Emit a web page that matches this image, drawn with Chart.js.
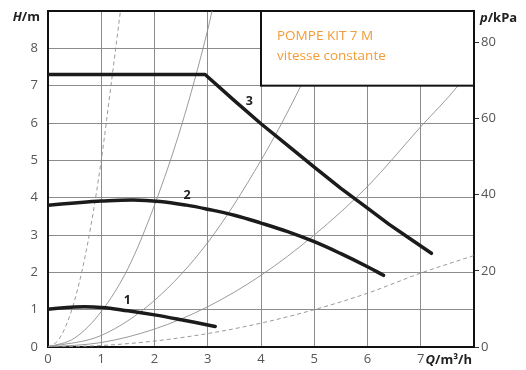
<!DOCTYPE html>
<html>
<head>
<meta charset="utf-8">
<script src="https://cdn.jsdelivr.net/npm/chart.js@4"></script>
<style>
  body { margin: 0; background: #fff; }
</style>
</head>
<body>
<canvas id="chart" width="526" height="370"></canvas>
<script>
// pump curves, Q (m3/h) against H (m)
const pump1 = [[0, 1.01], [0.5, 1.07], [1, 1.06], [1.5, 0.97], [2, 0.86], [2.5, 0.73], [3, 0.59], [3.14, 0.55]];
const pump2 = [[0, 3.8], [0.5, 3.86], [1, 3.91], [1.6, 3.94], [2.1, 3.9], [2.6, 3.8], [3, 3.69], [3.5, 3.53], [4, 3.32], [4.5, 3.09], [5, 2.82], [5.5, 2.5], [6, 2.15], [6.3, 1.92]];
const pump3 = [[0, 7.3], [2.95, 7.3], [3.5, 6.6], [4, 5.98], [4.5, 5.4], [5, 4.82], [5.5, 4.25], [6, 3.72], [6.4, 3.29], [6.8, 2.9], [7.2, 2.51]];

// thin system curves
const sysA = [[0, 0], [0.2, 0.2], [0.4, 0.8], [0.6, 1.8], [0.8, 3.2], [1, 5], [1.2, 7.2], [1.36, 9]];
const sysB = [[0, 0], [0.5, 0.24], [1, 0.95], [1.5, 2.1], [2, 3.8], [2.5, 5.9], [3, 8.5], [3.08, 9]];
const sysC = [[0, 0], [1, 0.31], [2, 1.25], [3, 2.8], [4, 5], [4.75, 7], [5.2, 8.4]];
const sysD = [[0, 0], [1, 0.12], [2, 0.48], [3, 1.08], [4, 1.92], [5, 3], [6, 4.3], [7, 5.9], [7.7, 7], [8, 7.6]];
const sysE = [[0, 0], [1, 0.04], [2, 0.16], [3, 0.36], [4, 0.64], [5, 1], [6, 1.44], [7, 1.98], [8, 2.45]];

// axes
const qMax = 8;
const hMax = 9;
const kpaMax = 88.29;               // 9 m of water
const kpaTicks = [0, 20, 40, 60, 80];

// curve numbers and the title box
const curveLabels = [['1', 1.49, 1.24], ['2', 2.61, 4.06], ['3', 3.78, 6.59]];
const boxQ = [4, 8];
const boxH = [7, 9];
const titleLines = ['POMPE KIT 7 M', 'vitesse constante'];

const toXY = arr => arr.map(p => ({ x: p[0], y: p[1] }));

const pumpLine = (pts, tension) => ({
  data: toXY(pts),
  borderColor: '#1b1b1b',
  borderWidth: 3.5,
  pointRadius: 0,
  tension: tension,
  borderCapStyle: 'round',
  borderJoinStyle: 'round',
  order: 0,
});

const sysLine = (pts, dashed) => ({
  data: toXY(pts),
  borderColor: '#8e8e8e',
  borderWidth: 0.9,
  borderDash: dashed ? [4, 3] : [],
  pointRadius: 0,
  cubicInterpolationMode: 'monotone',
  order: 1,
});

const tickFont = { family: 'Open Sans', size: 13 };
const edgeColor = (v, last) => (v === 0 || v === last) ? '#111' : '#8c8c8c';

// drop the label overhang so the plot edges land where the picture has them
const noPadV = s => { s.paddingTop = 0; s.paddingBottom = 0; };

const overlay = {
  id: 'overlay',
  afterDatasetsDraw(chart) {
    const { ctx, chartArea, scales: { x, y } } = chart;
    ctx.save();

    // title box
    const l = x.getPixelForValue(boxQ[0]), r = x.getPixelForValue(boxQ[1]);
    const t = y.getPixelForValue(boxH[1]), b = y.getPixelForValue(boxH[0]);
    ctx.fillStyle = '#fff';
    ctx.fillRect(l, t, r - l, b - t);
    ctx.strokeStyle = '#111';
    ctx.lineWidth = 2;
    ctx.strokeRect(l, t, r - l, b - t);

    ctx.fillStyle = '#f39b36';
    ctx.font = '13.5px "Open Sans"';
    ctx.textAlign = 'left';
    ctx.textBaseline = 'alphabetic';
    ctx.fillText(titleLines[0], l + 16, t + 29);
    ctx.fillText(titleLines[1], l + 16, t + 49);

    // curve numbers
    ctx.fillStyle = '#222';
    ctx.font = 'bold 12.5px "Open Sans"';
    ctx.textAlign = 'center';
    ctx.textBaseline = 'middle';
    curveLabels.forEach(([txt, q, h]) => {
      ctx.fillText(txt, x.getPixelForValue(q), y.getPixelForValue(h));
    });

    // axis titles: italic symbol then unit
    const axisTitle = (sym, unit, px, py, align) => {
      ctx.textBaseline = 'alphabetic';
      ctx.textAlign = 'left';
      ctx.font = 'italic bold 13px "Open Sans"';
      const w1 = ctx.measureText(sym).width;
      ctx.font = 'bold 13px "Open Sans"';
      const w2 = ctx.measureText(unit).width;
      const x0 = align === 'right' ? px - w1 - w2 : px;
      ctx.font = 'italic bold 13px "Open Sans"';
      ctx.fillText(sym, x0, py);
      ctx.font = 'bold 13px "Open Sans"';
      ctx.fillText(unit, x0 + w1, py);
    };
    ctx.fillStyle = '#222';
    axisTitle('H', '/m', 40, 21, 'right');
    axisTitle('p', '/kPa', 480, 22, 'left');
    axisTitle('Q', '/m³/h', chartArea.right - 2, 364, 'right');

    ctx.restore();
  }
};

new Chart(document.getElementById('chart'), {
  type: 'line',
  data: {
    datasets: [
      pumpLine(pump1, 0.4),
      pumpLine(pump2, 0.4),
      pumpLine(pump3, 0),
      sysLine(sysA, true),
      sysLine(sysB, false),
      sysLine(sysC, false),
      sysLine(sysD, false),
      sysLine(sysE, true),
    ],
  },
  options: {
    responsive: false,
    animation: false,
    events: [],
    layout: { padding: { top: 11, left: 0, right: 0, bottom: 0 } },
    plugins: { legend: { display: false }, tooltip: { enabled: false } },
    scales: {
      x: {
        type: 'linear',
        min: 0,
        max: qMax,
        afterFit: s => { s.height = 23; s.paddingLeft = 0; s.paddingRight = 0; },
        ticks: {
          stepSize: 1,
          font: tickFont,
          color: '#555',
          padding: 4,
          maxRotation: 0,
          callback: v => v === qMax ? '' : v,
        },
        grid: {
          drawTicks: false,
          color: c => edgeColor(c.tick.value, qMax),
          lineWidth: c => (c.tick.value === 0 || c.tick.value === qMax) ? 2 : 1,
        },
        border: { color: '#111', width: 2 },
      },
      y: {
        type: 'linear',
        position: 'left',
        min: 0,
        max: hMax,
        afterFit: s => { s.width = 48; noPadV(s); },
        ticks: {
          stepSize: 1,
          font: tickFont,
          color: '#555',
          padding: 10,
          callback: v => v === hMax ? '' : v,
        },
        grid: {
          drawTicks: false,
          color: c => edgeColor(c.tick.value, hMax),
          lineWidth: c => (c.tick.value === 0 || c.tick.value === hMax) ? 2 : 1,
        },
        border: { color: '#111', width: 2 },
      },
      y2: {
        type: 'linear',
        position: 'right',
        min: 0,
        max: kpaMax,
        afterFit: s => { s.width = 52; noPadV(s); },
        afterBuildTicks: s => { s.ticks = kpaTicks.map(v => ({ value: v })); },
        ticks: {
          font: tickFont,
          color: '#555',
          padding: 2,
        },
        grid: {
          drawOnChartArea: false,
          drawTicks: true,
          tickLength: 5,
          color: '#333',
          lineWidth: 1,
        },
        border: { color: '#111', width: 2 },
      },
    },
  },
  plugins: [overlay],
});
</script>
</body>
</html>
